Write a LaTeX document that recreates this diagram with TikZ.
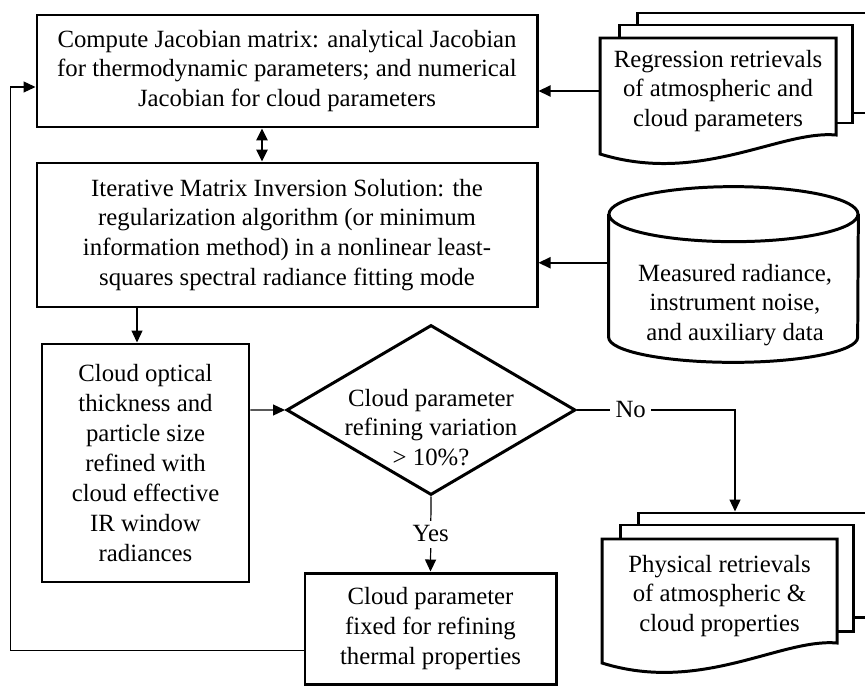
\documentclass[tikz,border=0pt]{standalone}
\usepackage{fontspec}
\setmainfont{Liberation Serif}
\usepackage{tikz}
\usetikzlibrary{shapes.geometric, arrows.meta}

\begin{document}
\begin{tikzpicture}[
            scale=1,
            >={Triangle[length=0.24cm, width=0.22cm]},
            process/.style={rectangle, draw, line width=1.7pt, align=center, inner sep=0pt, font=\fontsize{14.1}{17}\selectfont},
            decision/.style={diamond, draw, line width=1.7pt, inner sep=0pt, minimum width=5.78cm, minimum height=3.40cm},
            page/.style={rectangle, draw, fill=white, line width=1.7pt},
            sheet/.style={draw, fill=white, line width=1.7pt},
            label_text/.style={align=center, inner sep=0pt, font=\fontsize{14.1}{17}\selectfont},
            line/.style={draw, line width=0.7pt},
            heavy_line/.style={draw, line width=1.2pt}
        ]
        % Page frame
        \clip (0,0) rectangle (17.3,-13.72);

        % Left column - processing steps
        \node[process, minimum width=10.0cm, minimum height=2.24cm] (jacob) at (5.74,-1.42) {Compute Jacobian matrix: analytical Jacobian\\for thermodynamic parameters; and numerical\\Jacobian for cloud parameters};
        \node[process, minimum width=10.0cm, minimum height=2.88cm] (invert) at (5.74,-4.70) {Iterative Matrix Inversion Solution: the\\regularization algorithm (or minimum\\information method) in a nonlinear least-\\squares spectral radiance fitting mode};
        \node[process, minimum width=4.14cm, minimum height=4.76cm] (optic) at (2.91,-9.26) {Cloud optical\\thickness and\\particle size\\refined with\\cloud effective\\IR window\\radiances};

        % Decision
        \node[decision] (test) at (8.62,-8.20) {};
        \node[label_text] (test_text) at (8.62,-8.55) {Cloud parameter\\refining variation\\> 10\%?};
        \node[process, minimum width=5.02cm, minimum height=2.22cm] (fixed) at (8.61,-12.57) {Cloud parameter\\fixed for refining\\thermal properties};

        % Regression retrievals - stack of pages
        \node[page, minimum width=4.86cm, minimum height=2.00cm] (regr3) at (15.17,-1.26) {};
        \node[page, minimum width=4.66cm, minimum height=1.96cm] (regr2) at (14.71,-1.48) {};
        \draw[sheet] (12.0,-3.08) -- (12.0,-0.76) -- (16.72,-0.76) -- (16.72,-2.70) .. controls (15.6,-2.6) and (14.0,-3.7) .. (12.0,-3.08) -- cycle;
        \node[label_text, minimum width=4.72cm] (regr) at (14.36,-1.82) {Regression retrievals\\of atmospheric and\\cloud parameters};

        % Measured data - cylinder
        \node[minimum width=4.98cm, minimum height=2.45cm, inner sep=0pt] (meas) at (14.67,-5.515) {};
        \draw[sheet] (meas.north west) -- (meas.south west) arc[start angle=180, end angle=360, x radius=2.49cm, y radius=0.5cm] -- (meas.north east);
        \draw[sheet] (meas.north) ellipse[x radius=2.49cm, y radius=0.55cm];
        \node[label_text] (meas_text) at (14.70,-6.10) {Measured radiance,\\instrument noise,\\and auxiliary data};

        % Physical retrievals - stack of pages
        \node[page, minimum width=4.84cm, minimum height=2.08cm] (phys3) at (15.18,-11.30) {};
        \node[page, minimum width=4.66cm, minimum height=2.12cm] (phys2) at (14.73,-11.56) {};
        \draw[sheet] (12.04,-13.26) -- (12.04,-10.78) -- (16.74,-10.78) -- (16.74,-12.86) .. controls (15.62,-12.76) and (14.02,-13.88) .. (12.04,-13.26) -- cycle;
        \node[label_text, minimum width=4.70cm] (phys) at (14.39,-11.92) {Physical retrievals\\of atmospheric \&\\cloud properties};

        % Connectors
        \draw[heavy_line, ->] (regr.west) -- (regr.west -| jacob.east);

        \coordinate (link) at ([xshift=-0.5cm]jacob.south);
        \draw[line width=1.5pt, <->] (link) -- (link |- invert.north);

        \coordinate (meas_in) at ([yshift=0.26cm]meas.west);
        \draw[heavy_line, ->] (meas_in) -- (meas_in -| invert.east);

        \coordinate (optic_in) at ([xshift=-0.17cm]optic.north);
        \draw[line, ->] (optic_in |- invert.south) -- (optic_in);

        \coordinate (test_in) at ([yshift=1.06cm]optic.east);
        \draw[line, ->] (test_in) -- (test.west);

        \draw[line, ->] (test.south) -- node[label_text, fill=white, inner sep=3pt] (yes) {Yes} (fixed.north);

        \coordinate (no_bend) at (14.70,-8.20);
        \draw[line, ->] (test.east) -- node[label_text, fill=white, inner sep=3pt, pos=0.34] (no) {No} (no_bend) -- (no_bend |- phys3.north);

        \coordinate (back) at ([xshift=-0.5cm, yshift=-0.32cm]jacob.west);
        \draw[line, ->] ([yshift=-0.44cm]fixed.west) -| (back) -- ([yshift=-0.32cm]jacob.west);

    \end{tikzpicture}
\end{document}
